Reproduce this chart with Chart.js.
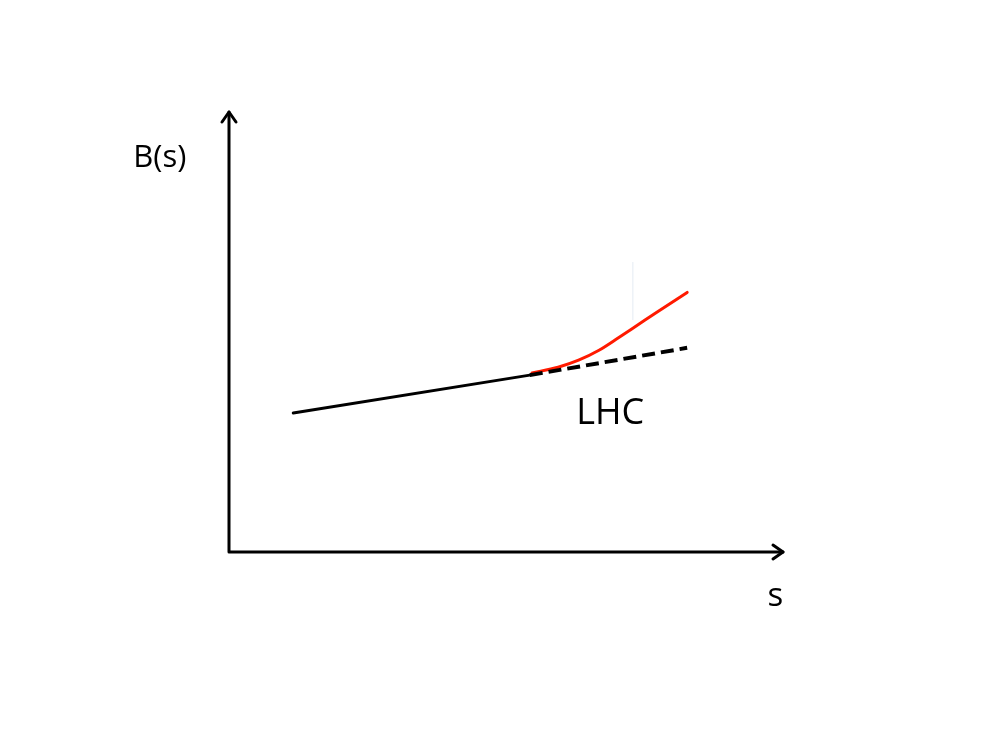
<!DOCTYPE html>
<html>
<head>
<meta charset="utf-8">
<script src="https://cdn.jsdelivr.net/npm/chart.js@4.4.1/dist/chart.umd.min.js"></script>
<style>
  html, body { margin: 0; padding: 0; background: #fff; }
  #wrap { width: 1000px; height: 750px; position: relative; }
</style>
</head>
<body>
<div id="wrap"><canvas id="chart"></canvas></div>
<script>
/* ─── Data (arbitrary units, axes run 0..100) ──────────────────── */
const baseS = [11.6, 54.3];
const baseB = [31.6, 40.2];

const extS = [54.3, 82.7];           // dashed extrapolation
const extB = [40.2, 46.4];

const lhcS = [54.7, 59.4, 63.1, 66.7, 70.3, 73.9, 77.5, 82.7];   // red rise
const lhcB = [40.7, 42.0, 43.6, 45.8, 48.7, 51.7, 54.7, 59.0];

const markS = [72.9, 72.9];          // faint vertical trace
const markB = [52.7, 65.9];

const yTitle   = 'B(s)';
const xTitle   = 's';
const lhcLabel = 'LHC';

const pts = (xs, ys) => xs.map((x, i) => ({ x, y: ys[i] }));

/* ─── Axes with arrow heads + text labels ──────────────────────── */
const arrowAxes = {
    id: 'arrowAxes',
    afterDatasetsDraw(chart) {
        const { ctx, chartArea: a, scales } = chart;
        const xs = scales.x, ys = scales.y;
        ctx.save();
        ctx.strokeStyle = '#000';
        ctx.lineWidth   = 3;
        ctx.lineCap     = 'round';
        ctx.lineJoin    = 'round';

        // axes
        ctx.beginPath();
        ctx.moveTo(a.left, a.top);
        ctx.lineTo(a.left, a.bottom);
        ctx.lineTo(a.right, a.bottom);
        ctx.stroke();

        // arrow heads
        ctx.beginPath();
        ctx.moveTo(a.left - 7, a.top + 10);
        ctx.lineTo(a.left, a.top);
        ctx.lineTo(a.left + 7, a.top + 10);
        ctx.moveTo(a.right - 10, a.bottom - 7);
        ctx.lineTo(a.right, a.bottom);
        ctx.lineTo(a.right - 10, a.bottom + 7);
        ctx.stroke();

        // labels
        ctx.fillStyle = '#000';
        ctx.textAlign = 'center';
        ctx.textBaseline = 'alphabetic';
        ctx.font = '31px "Open Sans", sans-serif';
        ctx.fillText(yTitle, xs.getPixelForValue(-12.5), ys.getPixelForValue(87.5));
        ctx.font = '33px "Open Sans", sans-serif';
        ctx.fillText(xTitle, xs.getPixelForValue(98.6), ys.getPixelForValue(-12.3));
        ctx.font = '36px "Open Sans", sans-serif';
        ctx.fillText(lhcLabel, xs.getPixelForValue(68.8), ys.getPixelForValue(29.1));
        ctx.restore();
    }
};

new Chart(document.getElementById('chart'), {
    type: 'line',
    data: {
        datasets: [
            {
                data: pts(markS, markB),
                borderColor: '#e4ebf3',
                borderWidth: 1,
                pointRadius: 0,
            },
            {
                data: pts(extS, extB),
                borderColor: '#000',
                borderWidth: 4,
                borderDash: [13, 6],
                pointRadius: 0,
            },
            {
                data: pts(baseS, baseB),
                borderColor: '#000',
                borderWidth: 3,
                pointRadius: 0,
                borderCapStyle: 'round',
            },
            {
                data: pts(lhcS, lhcB),
                borderColor: '#ff1a00',
                borderWidth: 3,
                pointRadius: 0,
                cubicInterpolationMode: 'monotone',
                borderCapStyle: 'round',
            },
        ],
    },
    options: {
        responsive: true,
        maintainAspectRatio: false,
        animation: false,
        layout: { padding: { left: 229, top: 112, right: 217, bottom: 198 } },
        plugins: { legend: { display: false }, tooltip: { enabled: false } },
        scales: {
            x: { type: 'linear', min: 0, max: 100, display: false },
            y: { type: 'linear', min: 0, max: 100, display: false },
        },
    },
    plugins: [arrowAxes],
});
</script>
</body>
</html>
